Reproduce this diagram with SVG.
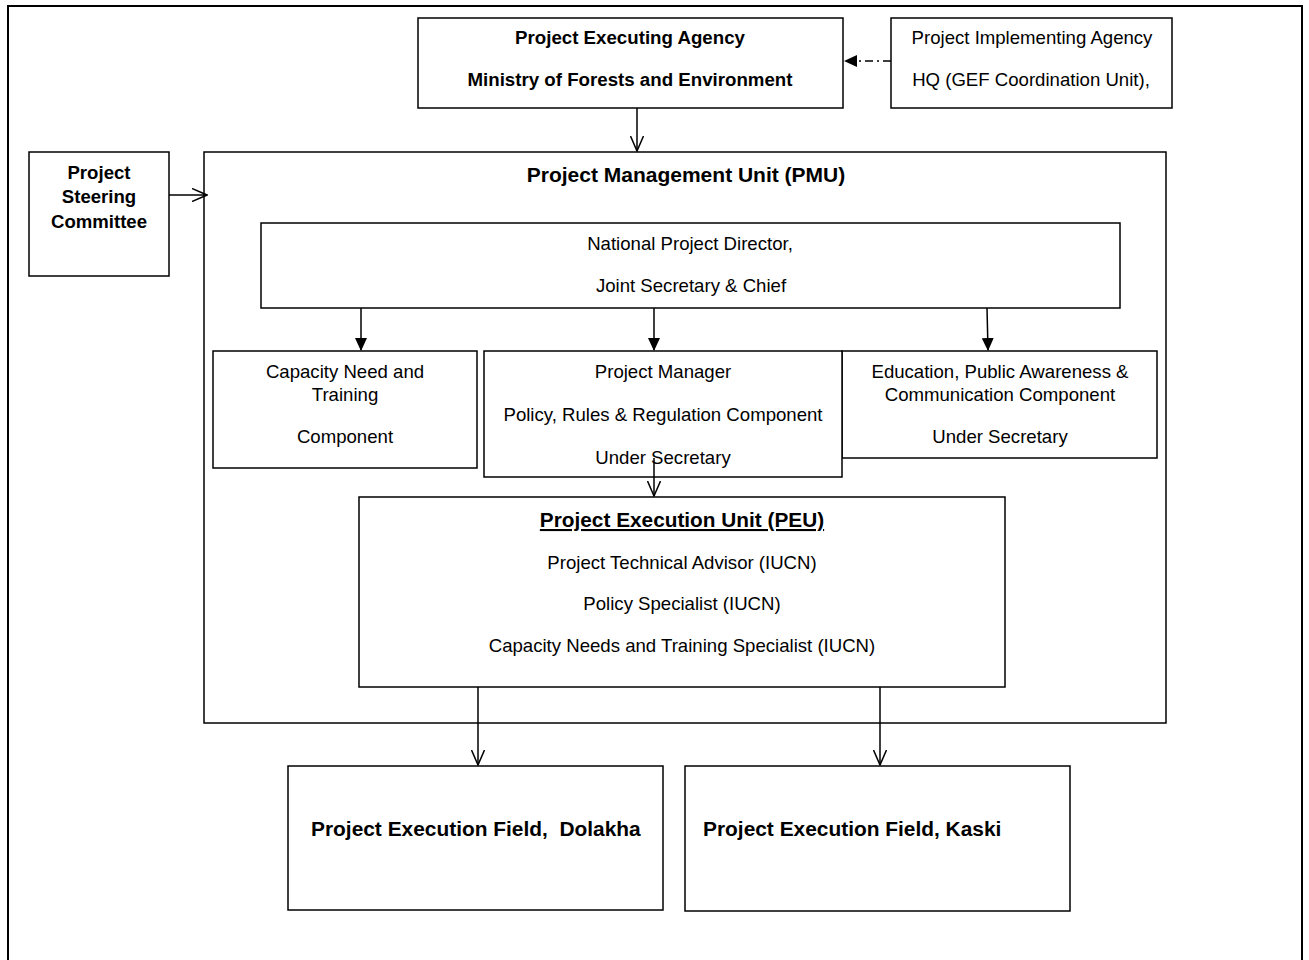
<svg xmlns="http://www.w3.org/2000/svg" width="1309" height="960" viewBox="0 0 1309 960">
<style>
  .box{fill:#fff;stroke:#000;stroke-width:1.5}
  .t{font-family:"Liberation Sans",Arial,sans-serif;font-size:18.6px;fill:#000;text-anchor:middle}
  .b{font-weight:bold}
  .c{stroke:#000;stroke-width:1.5;fill:none}
</style>
<defs>
  <marker id="open" viewBox="0 0 16 14" refX="15" refY="7" markerWidth="16" markerHeight="14" markerUnits="userSpaceOnUse" orient="auto">
    <path d="M0,0.5 L15,7 L0,13.5" fill="none" stroke="#000" stroke-width="1.5"/>
  </marker>
  <marker id="fill" viewBox="0 0 13 12" refX="12" refY="6" markerWidth="13" markerHeight="12" markerUnits="userSpaceOnUse" orient="auto">
    <path d="M0,0 L13,6 L0,12 Z" fill="#000"/>
  </marker>
</defs>
<rect width="1309" height="960" fill="#fff"/>
<rect x="8" y="6" width="1294" height="970" fill="none" stroke="#000" stroke-width="2"/>

<g id="pmu">
  <rect class="box" x="204" y="152" width="962" height="571"/>
  <text class="t b" x="686" y="182" style="font-size:21px">Project Management Unit (PMU)</text>
</g>
<g id="executing-agency">
  <rect class="box" x="418" y="18" width="425" height="90"/>
  <text class="t b" x="630" y="44" style="font-size:18.7px">Project Executing Agency</text>
  <text class="t b" x="630" y="86" style="font-size:18.7px">Ministry of Forests and Environment</text>
</g>
<g id="implementing-agency">
  <rect class="box" x="891" y="18" width="281" height="90"/>
  <text class="t" x="1032" y="44">Project Implementing Agency</text>
  <text class="t" x="1031" y="86">HQ (GEF Coordination Unit),</text>
</g>
<g id="steering-committee">
  <rect class="box" x="29" y="152" width="140" height="124"/>
  <text class="t b" x="99" y="179">Project</text>
  <text class="t b" x="99" y="203">Steering</text>
  <text class="t b" x="99" y="228">Committee</text>
</g>
<g id="npd">
  <rect class="box" x="261" y="223" width="859" height="85"/>
  <text class="t" x="690" y="250">National Project Director,</text>
  <text class="t" x="691" y="292">Joint Secretary &amp; Chief</text>
</g>
<g id="capacity">
  <rect class="box" x="213" y="351" width="264" height="117"/>
  <text class="t" x="345" y="378">Capacity Need and</text>
  <text class="t" x="345" y="401">Training</text>
  <text class="t" x="345" y="443">Component</text>
</g>
<g id="education">
  <rect class="box" x="842" y="351" width="315" height="107"/>
  <text class="t" x="1000" y="378">Education, Public Awareness &amp;</text>
  <text class="t" x="1000" y="401">Communication Component</text>
  <text class="t" x="1000" y="443">Under Secretary</text>
</g>
<g id="project-manager">
  <rect class="box" x="484" y="351" width="358" height="126"/>
  <text class="t" x="663" y="378">Project Manager</text>
  <text class="t" x="663" y="421">Policy, Rules &amp; Regulation Component</text>
  <text class="t" x="663" y="464">Under Secretary</text>
</g>
<g id="peu">
  <rect class="box" x="359" y="497" width="646" height="190"/>
  <text class="t b" x="682" y="527" style="font-size:20.8px" text-decoration="underline">Project Execution Unit (PEU)</text>
  <text class="t" x="682" y="569">Project Technical Advisor (IUCN)</text>
  <text class="t" x="682" y="610">Policy Specialist (IUCN)</text>
  <text class="t" x="682" y="652">Capacity Needs and Training Specialist (IUCN)</text>
</g>
<g id="field-dolakha">
  <rect class="box" x="288" y="766" width="375" height="144"/>
  <text class="t b" x="311" y="836" style="font-size:20.9px;text-anchor:start;white-space:pre" xml:space="preserve">Project Execution Field,  Dolakha</text>
</g>
<g id="field-kaski">
  <rect class="box" x="685" y="766" width="385" height="145"/>
  <text class="t b" x="703" y="836" style="font-size:20.9px;text-anchor:start">Project Execution Field, Kaski</text>
</g>

<g id="connectors">
  <line class="c" x1="891" y1="61" x2="845" y2="61" stroke-dasharray="8,4,2,4" marker-end="url(#fill)"/>
  <line class="c" x1="637" y1="108" x2="637" y2="151" marker-end="url(#open)"/>
  <line class="c" x1="169" y1="195" x2="207" y2="195" marker-end="url(#open)"/>
  <line class="c" x1="361" y1="308" x2="361" y2="350" marker-end="url(#fill)"/>
  <line class="c" x1="654" y1="308" x2="654" y2="350" marker-end="url(#fill)"/>
  <line class="c" x1="987" y1="308" x2="988" y2="350" marker-end="url(#fill)"/>
  <line class="c" x1="654" y1="458" x2="654" y2="496" marker-end="url(#open)"/>
  <line class="c" x1="478" y1="687" x2="478" y2="765" marker-end="url(#open)"/>
  <line class="c" x1="880" y1="687" x2="880" y2="765" marker-end="url(#open)"/>
</g>
</svg>
